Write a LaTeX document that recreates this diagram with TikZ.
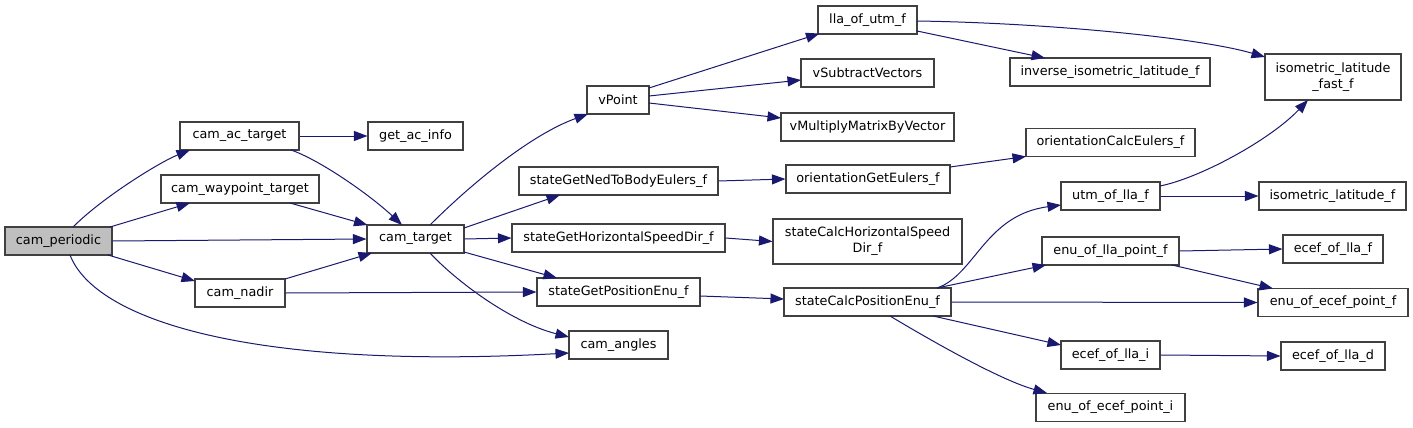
\documentclass[tikz,border=0pt]{standalone}
\usepackage{fontspec}
\setmainfont{DejaVu Sans}
\usetikzlibrary{arrows.meta}
\definecolor{edgeblue}{HTML}{191970}
\definecolor{nodeborder}{HTML}{404040}
\definecolor{rootfill}{HTML}{BFBFBF}
\begin{document}
\begin{tikzpicture}[x=1pt,y=-1pt,
  fn/.style={draw=nodeborder, line width=1.1pt, fill=white, inner sep=0pt, minimum height=28pt, font=\fontsize{12.8}{16}\selectfont, align=center},
  root/.style={fn, fill=rootfill},
  call/.style={draw=edgeblue, line width=1pt, -{Triangle[length=13.5pt,width=10pt]}},
]
\fill[white] (0,0) rectangle (1413,428);
\useasboundingbox (0,0) rectangle (1413,428);

\node[root, minimum width=107pt] (p) at (58.5,241) {cam\_periodic};
\node[fn, minimum width=119pt] (ac) at (239.5,136) {cam\_ac\_target};
\node[fn, minimum width=95pt] (gi) at (415.5,136) {get\_ac\_info};
\node[fn, minimum width=158pt] (wp) at (240,189) {cam\_waypoint\_target};
\node[fn, minimum width=97pt] (t) at (415.5,239) {cam\_target};
\node[fn, minimum width=90pt] (n) at (240,293) {cam\_nadir};
\node[fn, minimum width=99pt] (l) at (867.5,20) {lla\_of\_utm\_f};
\node[fn, minimum width=133pt] (vs) at (867.5,73) {vSubtractVectors};
\node[fn, minimum width=62pt] (vp) at (618,100) {vPoint};
\node[fn, minimum width=173pt] (vm) at (867.5,127) {vMultiplyMatrixByVector};
\node[fn, minimum width=199pt] (ned) at (618.5,181) {stateGetNedToBodyEulers\_f};
\node[fn, minimum width=164pt] (oge) at (868,179) {orientationGetEulers\_f};
\node[fn, minimum width=213pt] (hsd) at (618.5,238) {stateGetHorizontalSpeedDir\_f};
\node[fn, minimum width=189pt, minimum height=45pt] (chsd) at (867.5,241.5) {stateCalcHorizontalSpeed\\Dir\_f};
\node[fn, minimum width=163pt] (gpe) at (618.5,292) {stateGetPositionEnu\_f};
\node[fn, minimum width=167pt] (cpe) at (867.5,302) {stateCalcPositionEnu\_f};
\node[fn, minimum width=99pt] (ang) at (618.5,345) {cam\_angles};
\node[fn, minimum width=200pt] (inv) at (1110,72) {inverse\_isometric\_latitude\_f};
\node[fn, minimum width=136pt, minimum height=46pt] (isf) at (1333,77) {isometric\_latitude\\\_fast\_f};
\node[fn, minimum width=169pt] (oce) at (1110.5,142.5) {orientationCalcEulers\_f};
\node[fn, minimum width=99pt] (utm) at (1110.5,196) {utm\_of\_lla\_f};
\node[fn, minimum width=147pt] (iso) at (1332.5,196) {isometric\_latitude\_f};
\node[fn, minimum width=137pt] (el) at (1110.5,251) {enu\_of\_lla\_point\_f};
\node[fn, minimum width=100pt] (elf) at (1333,249) {ecef\_of\_lla\_f};
\node[fn, minimum width=150pt] (eef) at (1333,302.5) {enu\_of\_ecef\_point\_f};
\node[fn, minimum width=99pt] (ei) at (1110.5,355) {ecef\_of\_lla\_i};
\node[fn, minimum width=104pt] (ed) at (1333,356) {ecef\_of\_lla\_d};
\node[fn, minimum width=149pt] (eei) at (1110.5,407.5) {enu\_of\_ecef\_point\_i};

\draw[call] ([shift={(14.5,-14)}]p.center) .. controls +(30,-30) and +(-30,12) .. ([shift={(-49.5,14)}]ac.center);
\draw[call] ([shift={(51.5,-14)}]p.center) -- ([shift={(-50,14)}]wp.center);
\draw[call] (p.east) -- (t.west);
\draw[call] ([shift={(49.5,14)}]p.center) -- ([shift={(-45,-12)}]n.center);
\draw[call] ([shift={(11.5,14)}]p.center) .. controls +(25,65) and +(-319,17) .. ([shift={(-49.5,8)}]ang.center);
\draw[call] (ac.east) -- (gi.west);
\draw[call] ([shift={(51.5,14)}]ac.center) .. controls +(29,10) and +(-32,-30) .. ([shift={(-13.5,-14)}]t.center);
\draw[call] ([shift={(50,14)}]wp.center) -- ([shift={(-48,-14)}]t.center);
\draw[call] ([shift={(45,-14)}]n.center) -- ([shift={(-43.5,14)}]t.center);
\draw[call] (n.east) -- (gpe.west);
\draw[call] ([shift={(14.5,-14)}]t.center) .. controls +(40,-40) and +(-58,21) .. ([shift={(-30,14)}]vp.center);
\draw[call] ([shift={(48.5,-11)}]t.center) -- ([shift={(-58.5,14)}]ned.center);
\draw[call] (t.east) -- (hsd.west);
\draw[call] ([shift={(48.5,13)}]t.center) -- ([shift={(-61.5,-14)}]gpe.center);
\draw[call] ([shift={(14.5,14)}]t.center) .. controls +(25,27) and +(-59,-15) .. ([shift={(-49.5,-8)}]ang.center);
\draw[call] ([shift={(31,-12)}]vp.center) -- ([shift={(2,-1)}]l.south west);
\draw[call] ([shift={(31,-4)}]vp.center) -- ([shift={(-66.5,7)}]vs.center);
\draw[call] ([shift={(31,3)}]vp.center) -- ([shift={(-86.5,-9)}]vm.center);
\draw[call] ([shift={(49.5,11)}]l.center) -- ([shift={(-65,-14)}]inv.center);
\draw[call] ([shift={(49.5,1)}]l.center) .. controls +(133,2) and +(-65,-19) .. ([shift={(-68,-20)}]isf.center);
\draw[call] (ned.east) -- (oge.west);
\draw[call] ([shift={(82,-12)}]oge.center) -- ([shift={(-84.5,14)}]oce.center);
\draw[call] (hsd.east) -- (chsd.west);
\draw[call] ([shift={(81.5,4)}]gpe.center) -- ([shift={(-83.5,-3)}]cpe.center);
\draw[call] ([shift={(69.5,-14)}]cpe.center) .. controls +(38,-13) and +(-76,10) .. ([shift={(-49.5,9)}]utm.center);
\draw[call] ([shift={(69.5,-14)}]cpe.center) -- ([shift={(-64.5,14)}]el.center);
\draw[call] (cpe.east) -- (eef.west);
\draw[call] ([shift={(65.5,14)}]cpe.center) -- ([shift={(-49.5,-10)}]ei.center);
\draw[call] ([shift={(22.5,14)}]cpe.center) .. controls +(40,24) and +(-47,-13) .. ([shift={(-63.5,-14.5)}]eei.center);
\draw[call] ([shift={(49.5,-10)}]utm.center) .. controls +(40,-8) and +(-38,40) .. ([shift={(-25,23)}]isf.center);
\draw[call] (utm.east) -- (iso.west);
\draw[call] (el.east) -- (elf.west);
\draw[call] ([shift={(61.5,14)}]el.center) -- ([shift={(-60,-14)}]eef.center);
\draw[call] (ei.east) -- (ed.west);
\end{tikzpicture}
\end{document}
